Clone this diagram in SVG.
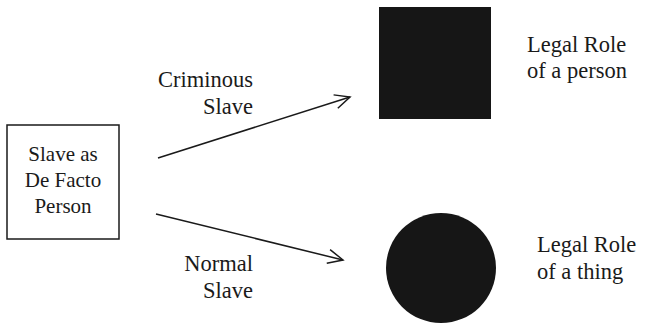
<svg xmlns="http://www.w3.org/2000/svg" width="646" height="323" viewBox="0 0 646 323">
<style>
.lbl{font-family:'Liberation Serif',serif;font-size:22.5px;fill:#1a1a1a}
.box{font-family:'Liberation Serif',serif;font-size:21px;fill:#1a1a1a;text-anchor:middle}
.edge{stroke:#1a1a1a;stroke-width:1.5;fill:none}
</style>
<defs>
<marker id="arr" markerWidth="20" markerHeight="20" refX="16" refY="8" orient="auto" markerUnits="userSpaceOnUse">
<path d="M1,1 L16,8 L1,15" fill="none" stroke="#1a1a1a" stroke-width="1.5"/>
</marker>
</defs>
<rect width="646" height="323" fill="#fff"/>
<g id="connectors">
<line class="edge" x1="158" y1="158" x2="350" y2="97" marker-end="url(#arr)"/>
<line class="edge" x1="156" y1="214" x2="343" y2="260" marker-end="url(#arr)"/>
</g>
<g id="edge-labels" text-anchor="end">
<text class="lbl" x="253" y="87">Criminous</text>
<text class="lbl" x="253" y="114">Slave</text>
<text class="lbl" x="253" y="271">Normal</text>
<text class="lbl" x="253" y="298">Slave</text>
</g>
<g id="slave">
<rect x="7" y="125" width="112" height="114" fill="none" stroke="#1a1a1a" stroke-width="1.5"/>
<text class="box" x="63" y="161">Slave as</text>
<text class="box" x="63" y="187">De Facto</text>
<text class="box" x="63" y="213">Person</text>
</g>
<g id="person">
<rect x="379" y="7" width="112" height="112" fill="#161616"/>
<text class="lbl" x="527" y="52">Legal Role</text>
<text class="lbl" x="527" y="78">of a person</text>
</g>
<g id="thing">
<circle cx="441" cy="268" r="55" fill="#161616"/>
<text class="lbl" x="537" y="252">Legal Role</text>
<text class="lbl" x="537" y="279">of a thing</text>
</g>
</svg>
